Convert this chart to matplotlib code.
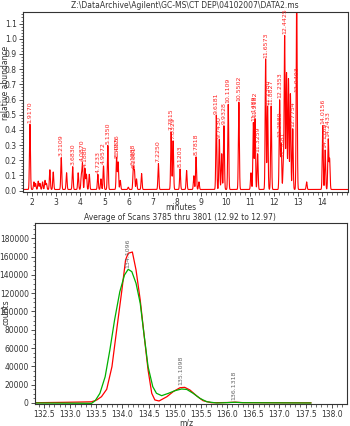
import numpy as np
import matplotlib
matplotlib.use("Agg")
import matplotlib.pyplot as plt
from matplotlib.ticker import MultipleLocator, FormatStrFormatter

# --- Chromatogram (TIC): peak retention time [min] and relative height ---
peak_times = [1.917, 2.08, 2.15, 2.26, 2.33, 2.44, 2.54, 2.60, 2.74, 2.88,
              3.211, 3.43, 3.683, 3.91, 4.04, 4.087, 4.188, 4.25, 4.37,
              4.723, 4.85, 4.957, 5.135, 5.498, 5.56, 5.65, 5.98,
              6.189, 6.236, 6.32, 6.53, 7.225, 7.7515, 7.833, 8.12, 8.39,
              8.69, 8.782, 8.90, 9.618, 9.743, 9.84, 9.933, 10.111, 10.55,
              11.05, 11.149, 11.218, 11.326, 11.657, 11.738, 11.883,
              12.235, 12.30, 12.388, 12.4425, 12.52, 12.60, 12.68, 12.7754,
              12.9403, 13.35, 14.0156, 14.117, 14.2433, 14.30]
peak_heights = [0.43, 0.05, 0.04, 0.055, 0.04, 0.05, 0.06, 0.04, 0.13, 0.115,
                0.21, 0.11, 0.15, 0.11, 0.09, 0.17, 0.14, 0.10, 0.10,
                0.10, 0.07, 0.155, 0.29, 0.21, 0.18, 0.06, 0.015,
                0.145, 0.12, 0.07, 0.105, 0.17, 0.38, 0.32, 0.135, 0.125,
                0.09, 0.215, 0.05, 0.49, 0.33, 0.235, 0.42, 0.56, 0.575,
                0.11, 0.44, 0.465, 0.235, 0.86, 0.55, 0.55,
                0.59, 0.30, 0.18, 1.01, 0.77, 0.73, 0.63, 0.40,
                1.30, 0.05, 0.42, 0.26, 0.33, 0.20]

peak_labels = ["1.9170", "3.2109", "3.6830", "4.0870", "4.1880", "4.7233",
               "4.9572", "5.1350", "5.4976", "5.5055", "6.1888", "6.2361",
               "7.2250", "7.7515", "7.8329", "8.1203", "8.7818", "9.6181",
               "9.7430", "9.9328", "10.1109", "10.5502", "11.1489", "11.2182",
               "11.3259", "11.6573", "11.7380", "11.8827", "12.2353", "12.2580",
               "12.3881", "12.4425", "12.7754", "12.9403", "14.0156",
               "14.1169", "14.2433"]

# --- Mass spectrum profile (average of scans) ---
mz_red = [132.33, 132.87, 133.25, 133.41, 133.51, 133.60, 133.70, 133.80,
          133.89, 133.99, 134.06, 134.11, 134.19, 134.26, 134.34, 134.41,
          134.49, 134.56, 134.62, 134.70, 134.85, 134.97, 135.10, 135.19,
          135.29, 135.42, 135.54, 135.70, 136.00, 136.15, 136.30, 137.60]
counts_red = [300, 700, 1100, 1300, 3300, 6900, 15000, 39700,
              79800, 123500, 156300, 163600, 165000, 145400, 112600, 76200,
              36100, 10600, 3300, 2200, 6900, 12400, 16700, 17100,
              14200, 7700, 2500, 300, 500, 900, 400, 200]

mz_green = [132.33, 133.25, 133.41, 133.48, 133.57, 133.67, 133.76, 133.85,
            133.95, 134.04, 134.11, 134.18, 134.26, 134.34, 134.41, 134.49,
            134.58, 134.65, 134.75, 134.88, 135.00, 135.13, 135.23, 135.35,
            135.48, 135.61, 135.80, 136.00, 136.15, 136.30, 137.60]
counts_green = [0, -300, -400, 2500, 10600, 28700, 57900, 90700,
                121600, 139900, 146100, 143500, 130800, 109000, 76200, 39700,
                17800, 10600, 8000, 10600, 13400, 15300, 14800, 10600,
                5100, 1400, 0, 400, 800, 300, 0]

ms_labels = [(134.1096, "134.1096", 148000), (135.1098, "135.1098", 19500),
             (136.1318, "136.1318", 3500)]

TXT = "#333333"
plt.rcParams["font.family"] = "DejaVu Sans"
plt.rcParams["font.size"] = 5.5

fig = plt.figure(figsize=(3.5, 4.26), dpi=100)
W, H = 350.0, 426.0


def box(l, t, r, b):
    return [l / W, 1 - b / H, (r - l) / W, (b - t) / H]


def style_axes(ax):
    for s in ax.spines.values():
        s.set_color(TXT)
        s.set_linewidth(0.8)
    ax.tick_params(which="major", length=3, width=0.6, color=TXT,
                   labelcolor=TXT, labelsize=5.5, pad=1.5)
    ax.tick_params(which="minor", length=1.8, width=0.5, color=TXT)


# ---------- top: chromatogram ----------
ax1 = fig.add_axes(box(23, 12, 348, 192))
t = np.linspace(1.63, 15.06, 5000)
trace = np.full_like(t, 0.008)
for pt, ph in zip(peak_times, peak_heights):
    trace += ph * np.exp(-0.5 * ((t - pt) / 0.02) ** 2)
ax1.plot(t, trace, color="#ff0000", lw=0.8)

for lab in peak_labels:
    x = float(lab)
    y = np.interp(x, t, trace)
    y = 0.65 if y > 1.1 else y + 0.01
    ax1.text(x, y, lab, rotation=90, ha="center", va="bottom",
             fontsize=4.5, color="#ff2020")

ax1.set_xlim(1.63, 15.06)
ax1.set_ylim(-0.0086, 1.176)
ax1.xaxis.set_major_locator(MultipleLocator(1))
ax1.xaxis.set_minor_locator(MultipleLocator(0.2))
ax1.yaxis.set_major_locator(MultipleLocator(0.1))
ax1.yaxis.set_minor_locator(MultipleLocator(0.02))
ax1.yaxis.set_major_formatter(FormatStrFormatter("%.1f"))
ax1.set_xticks([x for x in range(2, 15)])
style_axes(ax1)

# ---------- bottom: mass spectrum ----------
ax2 = fig.add_axes(box(35, 223, 347, 404))
ax2.plot(mz_red, counts_red, color="#ff0000", lw=0.9)
ax2.plot(mz_green, counts_green, color="#00b000", lw=0.9)
for x, lab, y in ms_labels:
    ax2.text(x, y, lab, rotation=90, ha="center", va="bottom",
             fontsize=4.5, color="#666666")

ax2.set_xlim(132.33, 138.29)
ax2.set_ylim(-1100, 196700)
ax2.xaxis.set_major_locator(MultipleLocator(0.5))
ax2.xaxis.set_minor_locator(MultipleLocator(0.1))
ax2.xaxis.set_major_formatter(FormatStrFormatter("%.1f"))
ax2.yaxis.set_major_locator(MultipleLocator(20000))
ax2.yaxis.set_minor_locator(MultipleLocator(5000))
ax2.set_yticks(np.arange(0, 180001, 20000))
style_axes(ax2)

# ---------- texts ----------
fig.text(185 / W, 1 - 5 / H,
         "Z:\\DataArchive\\Agilent\\GC-MS\\CT DEP\\04102007\\DATA2.ms",
         ha="center", va="center", color=TXT, fontsize=5.5)
fig.text(181 / W, 1 - 208 / H, "minutes", ha="center", va="center",
         color=TXT, fontsize=5.5)
fig.text(180 / W, 1 - 217 / H,
         "Average of Scans 3785 thru 3801 (12.92 to 12.97)",
         ha="center", va="center", color=TXT, fontsize=5.5)
fig.text(6 / W, 1 - 83 / H, "relative abundance", rotation=90,
         ha="center", va="center", color=TXT, fontsize=5.5)
fig.text(6 / W, 1 - 312 / H, "counts", rotation=90,
         ha="center", va="center", color=TXT, fontsize=5.5)
fig.text(186 / W, 1 - 423 / H, "m/z", ha="center", va="center",
         color=TXT, fontsize=5.5)

fig.savefig("out.png", dpi=100)
